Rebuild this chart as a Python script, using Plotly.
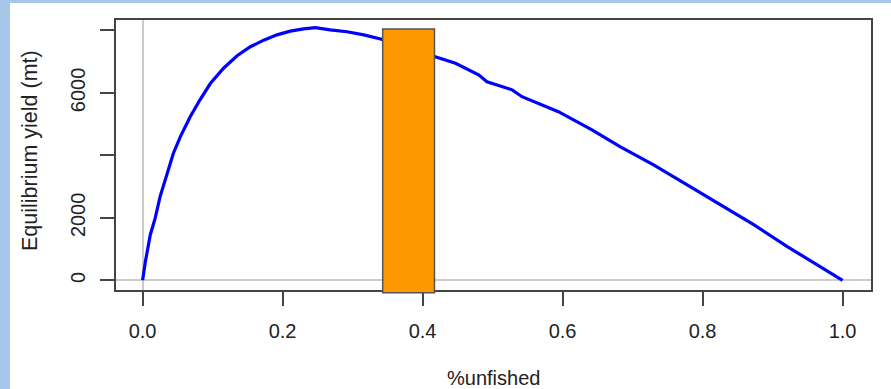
import plotly.graph_objects as go

# ---- data ----
unfished = [0, 0.004, 0.011, 0.018, 0.025, 0.035, 0.044, 0.054, 0.068, 0.082, 0.097,
            0.116, 0.135, 0.154, 0.173, 0.192, 0.211, 0.230, 0.247, 0.268, 0.292,
            0.316, 0.340, 0.418, 0.447, 0.480, 0.492, 0.528, 0.542, 0.594, 0.642,
            0.682, 0.730, 0.778, 0.825, 0.873, 0.921, 0.968, 1.0]
yield_mt = [0, 600, 1460, 1990, 2680, 3380, 4070, 4600, 5240, 5780, 6310,
            6800, 7190, 7480, 7690, 7860, 7980, 8050, 8090, 8020, 7960,
            7860, 7730, 7160, 6950, 6580, 6360, 6100, 5880, 5400, 4820,
            4280, 3700, 3060, 2420, 1780, 1080, 440, 0]

band_x = [0.343, 0.417]        # target band on %unfished
band_y = [-400, 8050]          # band vertical extent (mt)

x_ticks = [0, 0.2, 0.4, 0.6, 0.8, 1.0]
y_ticks = [0, 2000, 4000, 6000, 8000]
y_ticktext = ["0", "2000", "", "6000", ""]

x_range = [-0.038, 1.0406]
y_range = [-310, 8336]

# ---- layout geometry ----
W, H = 891, 389
ML, MR, MT, MB = 116, 20, 20, 99
PW, PH = W - ML - MR, H - MT - MB

def px_to_paper_x(px):
    return (px - ML) / PW

def px_to_paper_y(py):
    return (H - MB - py) / PH

def val_to_paper_y(v):
    return (v - y_range[0]) / (y_range[1] - y_range[0])

FONT = "Liberation Sans, Arial, sans-serif"
TXT = "#222222"
AX = "#444444"
BLUE_BORDER = "#A6C6EA"

fig = go.Figure()
fig.add_trace(go.Scatter(x=unfished, y=yield_mt, mode="lines",
                         line=dict(color="#0000FF", width=3.2),
                         showlegend=False, hoverinfo="skip"))

shapes = [
    # orange band (drawn above the curve)
    dict(type="rect", xref="x", yref="paper",
         x0=band_x[0], x1=band_x[1],
         y0=val_to_paper_y(band_y[0]), y1=val_to_paper_y(band_y[1]),
         fillcolor="#FF9900", line=dict(color="#555555", width=1.5), layer="above"),
    # light blue frame strips (left and top)
    dict(type="rect", xref="paper", yref="paper",
         x0=px_to_paper_x(0), x1=px_to_paper_x(10),
         y0=px_to_paper_y(H), y1=px_to_paper_y(0),
         fillcolor=BLUE_BORDER, line=dict(width=0), layer="below"),
    dict(type="rect", xref="paper", yref="paper",
         x0=px_to_paper_x(0), x1=px_to_paper_x(W),
         y0=px_to_paper_y(3), y1=px_to_paper_y(0),
         fillcolor=BLUE_BORDER, line=dict(width=0), layer="below"),
]

annotations = [
    dict(text="%unfished", xref="paper", yref="paper", x=0.5, y=0,
         xanchor="center", yanchor="middle", yshift=-(378 - (H - MB)),
         showarrow=False, font=dict(family=FONT, size=20, color=TXT)),
    dict(text="Equilibrium yield (mt)", xref="paper", yref="paper", x=0,
         y=px_to_paper_y(151), xanchor="center", yanchor="middle",
         xshift=30 - ML, textangle=-90,
         showarrow=False, font=dict(family=FONT, size=21.5, color=TXT)),
]

fig.update_layout(
    width=W, height=H,
    margin=dict(l=ML, r=MR, t=MT, b=MB, pad=0),
    paper_bgcolor="white", plot_bgcolor="white",
    shapes=shapes, annotations=annotations,
    font=dict(family=FONT, size=20, color=TXT),
    xaxis=dict(range=x_range, tickvals=x_ticks, tickformat=".1f",
               showgrid=False, zeroline=True, zerolinecolor="#CCCCCC", zerolinewidth=1.5,
               showline=True, mirror=True, linecolor=AX, linewidth=1.6,
               ticks="outside", ticklen=14, tickwidth=1.6, tickcolor=AX,
               ticklabelstandoff=8,
               tickfont=dict(family=FONT, size=20, color=TXT)),
    yaxis=dict(range=y_range, tickvals=y_ticks, ticktext=y_ticktext,
               tickangle=-90,
               showgrid=False, zeroline=True, zerolinecolor="#CCCCCC", zerolinewidth=1.5,
               showline=True, mirror=True, linecolor=AX, linewidth=1.6,
               ticks="outside", ticklen=14, tickwidth=1.6, tickcolor=AX,
               ticklabelstandoff=7,
               tickfont=dict(family=FONT, size=20, color=TXT)),
)

fig.write_html("out.html", config={"displayModeBar": False},
               post_script="document.body.style.margin='0';document.body.style.padding='0';")
